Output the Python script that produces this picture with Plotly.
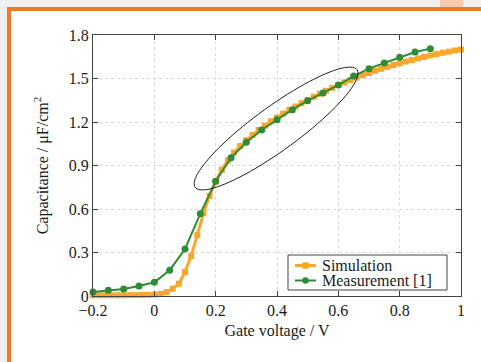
import numpy as np
import plotly.graph_objects as go

# ---------------- data ----------------
sim_v = [round(-0.2 + 0.02 * i, 2) for i in range(61)]
sim_c = [0.005, 0.005, 0.005, 0.005, 0.005, 0.005, 0.006, 0.006, 0.007, 0.008,
         0.010, 0.015, 0.027, 0.050, 0.085, 0.165, 0.275, 0.420, 0.570, 0.690,
         0.790, 0.870, 0.935, 0.990, 1.035, 1.075, 1.110, 1.145, 1.175, 1.205,
         1.230, 1.258, 1.283, 1.307, 1.330, 1.352, 1.374, 1.395, 1.415, 1.435,
         1.455, 1.473, 1.490, 1.507, 1.523, 1.538, 1.553, 1.567, 1.580, 1.593,
         1.605, 1.617, 1.628, 1.639, 1.649, 1.659, 1.668, 1.677, 1.685, 1.693,
         1.700]

meas_v = [-0.20, -0.15, -0.10, -0.05, 0.00, 0.05, 0.10, 0.15, 0.20, 0.25,
          0.30, 0.35, 0.40, 0.45, 0.50, 0.55, 0.60, 0.65, 0.70, 0.75,
          0.80, 0.85, 0.90]
meas_c = [0.028, 0.039, 0.048, 0.069, 0.095, 0.178, 0.324, 0.568, 0.792, 0.954,
          1.060, 1.145, 1.216, 1.285, 1.347, 1.400, 1.455, 1.517, 1.568, 1.607,
          1.646, 1.683, 1.706]

series_names = ["Simulation", "Measurement [1]"]

x_ticks = [-0.2, 0, 0.2, 0.4, 0.6, 0.8, 1.0]
x_ticktext = ["\u22120.2", "0", "0.2", "0.4", "0.6", "0.8", "1"]
y_ticks = [0, 0.3, 0.6, 0.9, 1.2, 1.5, 1.8]
y_ticktext = ["0", "0.3", "0.6", "0.9", "1.2", "1.5", "1.8"]

# ---------------- layout constants ----------------
W, H = 481, 362
ML, MR, MT, MB = 93, 20, 35, 66
XR = [-0.2, 1.0]
YR = [0.0, 1.8]
pw, ph = W - ML - MR, H - MT - MB
sx = pw / (XR[1] - XR[0])   # px per V
sy = ph / (YR[1] - YR[0])   # px per unit C

ORANGE = "#FAA62A"
GREEN = "#2E8B36"
TXT = "#1a1a1a"
FONT = "Liberation Serif"

fig = go.Figure()
fig.add_trace(go.Scatter(
    x=sim_v, y=sim_c, mode="lines+markers", name=series_names[0],
    line=dict(color=ORANGE, width=3),
    marker=dict(symbol="square", size=6, color=ORANGE),
    cliponaxis=False, showlegend=False,
))
fig.add_trace(go.Scatter(
    x=meas_v, y=meas_c, mode="lines+markers", name=series_names[1],
    line=dict(color=GREEN, width=2),
    marker=dict(symbol="circle", size=7, color=GREEN),
    cliponaxis=False, showlegend=False,
))

# ellipse annotation (center in data coords, axes in px)
ec_x, ec_y = 0.397, 1.155
ea, eb, eang = 100.0, 22.0, np.deg2rad(36.0)
t = np.linspace(0, 2 * np.pi, 90)
dxp = ea * np.cos(t) * np.cos(eang) - eb * np.sin(t) * np.sin(eang)
dyp = ea * np.cos(t) * np.sin(eang) + eb * np.sin(t) * np.cos(eang)
ex = ec_x + dxp / sx
ey = ec_y + dyp / sy
path = "M " + " L ".join(f"{a:.5f},{b:.5f}" for a, b in zip(ex, ey)) + " Z"


def px2paper(px, py):
    return (px - ML) / pw, (H - MB - py) / ph


shapes = []
annotations = []
# orange frame (white inside)
x0, y0 = px2paper(9, 9)
x1, y1 = px2paper(520, 400)
shapes.append(dict(type="rect", xref="paper", yref="paper", x0=x0, y0=y1, x1=x1, y1=y0,
                   line=dict(color="#F07A22", width=4), fillcolor="white", layer="below"))
# peach tab top right
a0, b0 = px2paper(440, 0)
a1, b1 = px2paper(463, 7)
shapes.append(dict(type="rect", xref="paper", yref="paper", x0=a0, y0=b1, x1=a1, y1=b0,
                   line=dict(width=0), fillcolor="#F6CBAE", layer="below"))
shapes.append(dict(type="path", xref="x", yref="y", path=path,
                   line=dict(color="#222222", width=1), layer="above"))

# legend box (compact, drawn as shapes + text)
lx0, ly0 = px2paper(288, 255)
lx1, ly1 = px2paper(447, 290)
shapes.append(dict(type="rect", xref="paper", yref="paper", x0=lx0, y0=ly1, x1=lx1, y1=ly0,
                   line=dict(color="#444444", width=1), fillcolor="white", layer="above"))
for name, col, sym, yy in [(series_names[0], ORANGE, "square", 265.5),
                           (series_names[1], GREEN, "circle", 280.5)]:
    p0x, p0y = px2paper(295, yy)
    p1x, _ = px2paper(316, yy)
    shapes.append(dict(type="line", xref="paper", yref="paper", x0=p0x, y0=p0y, x1=p1x, y1=p0y,
                       line=dict(color=col, width=2 if sym == "circle" else 3), layer="above"))
    ms = 3.2
    mx0, my0 = px2paper(305.5 - ms, yy - ms)
    mx1, my1 = px2paper(305.5 + ms, yy + ms)
    shapes.append(dict(type="rect" if sym == "square" else "circle", xref="paper", yref="paper",
                       x0=mx0, y0=my1, x1=mx1, y1=my0, fillcolor=col,
                       line=dict(color=col, width=0), layer="above"))
    tx, ty = px2paper(320, yy)
    annotations.append(dict(text=name, xref="paper", yref="paper", x=tx, y=ty,
                            xanchor="left", yanchor="middle", showarrow=False,
                            font=dict(family=FONT, size=16, color=TXT)))

axis_common = dict(
    showline=True, linecolor="#444444", linewidth=1.2, mirror="ticks",
    ticks="inside", ticklen=5, tickcolor="#444444", tickwidth=1,
    showgrid=True, gridcolor="#dcdcdc", griddash="dot", gridwidth=1,
    zeroline=False, tickfont=dict(family=FONT, size=16, color=TXT),
)

fig.update_layout(
    width=W, height=H,
    margin=dict(l=ML, r=MR, t=MT, b=MB, pad=0),
    paper_bgcolor="#efefef", plot_bgcolor="white",
    shapes=shapes, annotations=annotations,
    showlegend=False,
    xaxis=dict(range=XR, tickvals=x_ticks, ticktext=x_ticktext,
               title=dict(text="Gate voltage / V", font=dict(family=FONT, size=16, color=TXT),
                          standoff=6),
               **axis_common),
    yaxis=dict(range=YR, tickvals=y_ticks, ticktext=y_ticktext,
               title=dict(text="Capacitance / \u03bcF/cm<sup>2</sup>",
                          font=dict(family=FONT, size=16, color=TXT), standoff=16),
               **axis_common),
)

fig.write_html("out.html", config={"displayModeBar": False},
               post_script="document.body.style.margin='0';")
